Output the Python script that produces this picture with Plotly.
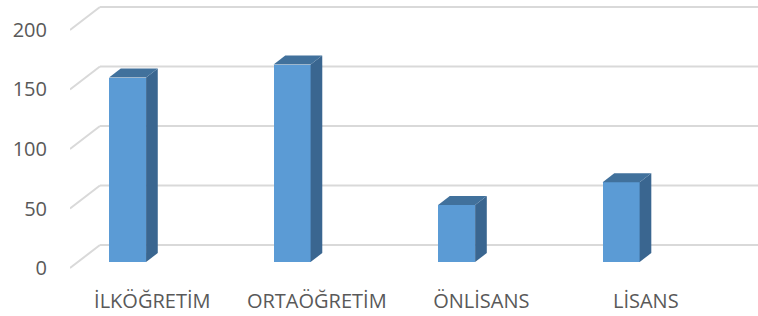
import plotly.graph_objects as go

categories = ["İLKÖĞRETİM", "ORTAÖĞRETİM", "ÖNLİSANS", "LİSANS"]
values = [155, 166, 48, 67]
tick_values = [0, 50, 100, 150, 200]

# pseudo-3D projection parameters (in axis units)
WALL_DX = 0.182   # floor depth, x shift from front plane to back wall
WALL_DY = 19.3    # floor depth, value shift from front plane to back wall
BAR_OFF = -0.150  # bar front centre relative to category centre
BAR_W = 0.225
BAR_BASE = 5.0    # bar front-face depth shift
BAR_DX = 0.071
BAR_DY = 7.6
X0, X1 = -0.5, 3.5

FRONT = "#5B9BD5"
SIDE = "#3A6690"
TOP = "#41719C"
GRID = "#D9D9D9"
TEXT = "#595959"

fig = go.Figure()

# gridlines (below the bars): diagonal side-wall segment + back-wall line
for v in tick_values:
    fig.add_shape(type="line", xref="x", yref="y", layer="below",
                  x0=X0, y0=v, x1=X0 + WALL_DX, y1=v + WALL_DY,
                  line=dict(color=GRID, width=2))
    fig.add_shape(type="line", xref="x", yref="y", layer="below",
                  x0=X0 + WALL_DX, y0=v + WALL_DY, x1=X1 + WALL_DX + 0.05, y1=v + WALL_DY,
                  line=dict(color=GRID, width=2))

# bars (front faces)
xs = [i + BAR_OFF for i in range(len(categories))]
fig.add_trace(go.Bar(
    x=xs, y=values, base=[BAR_BASE] * len(values), width=BAR_W,
    marker=dict(color=FRONT, line=dict(width=0)),
    showlegend=False, hoverinfo="skip"))

for xc, v in zip(xs, values):
    xl = xc - BAR_W / 2
    xr = xc + BAR_W / 2
    b = BAR_BASE
    t = BAR_BASE + v
    # side face
    fig.add_trace(go.Scatter(
        x=[xr, xr + BAR_DX, xr + BAR_DX, xr, xr],
        y=[b, b + BAR_DY, t + BAR_DY, t, b],
        fill="toself", fillcolor=SIDE, mode="lines",
        line=dict(width=0, color=SIDE), hoverinfo="skip", showlegend=False))
    # top face
    fig.add_trace(go.Scatter(
        x=[xl, xr, xr + BAR_DX, xl + BAR_DX, xl],
        y=[t, t, t + BAR_DY, t + BAR_DY, t],
        fill="toself", fillcolor=TOP, mode="lines",
        line=dict(width=0, color=TOP), hoverinfo="skip", showlegend=False))

fig.update_layout(
    width=758, height=316,
    margin=dict(l=70, r=0, t=0, b=40),
    paper_bgcolor="white", plot_bgcolor="white",
    font=dict(family="Open Sans", color=TEXT),
    bargap=0,
    xaxis=dict(
        range=[X0, X1 + WALL_DX],
        tickmode="array", tickvals=list(range(len(categories))), ticktext=categories,
        showgrid=False, zeroline=False, showline=False,
        ticks="outside", ticklen=7, tickcolor="rgba(0,0,0,0)",
        tickfont=dict(size=20, color=TEXT), fixedrange=True),
    yaxis=dict(
        range=[-6.72, 225.2],
        tickmode="array", tickvals=tick_values,
        showgrid=False, zeroline=False, showline=False,
        ticks="outside", ticklen=18, tickcolor="rgba(0,0,0,0)",
        tickfont=dict(size=20, color=TEXT), fixedrange=True),
)

fig.write_html("out.html", config={"displayModeBar": False},
               post_script="document.body.style.margin='0';")
